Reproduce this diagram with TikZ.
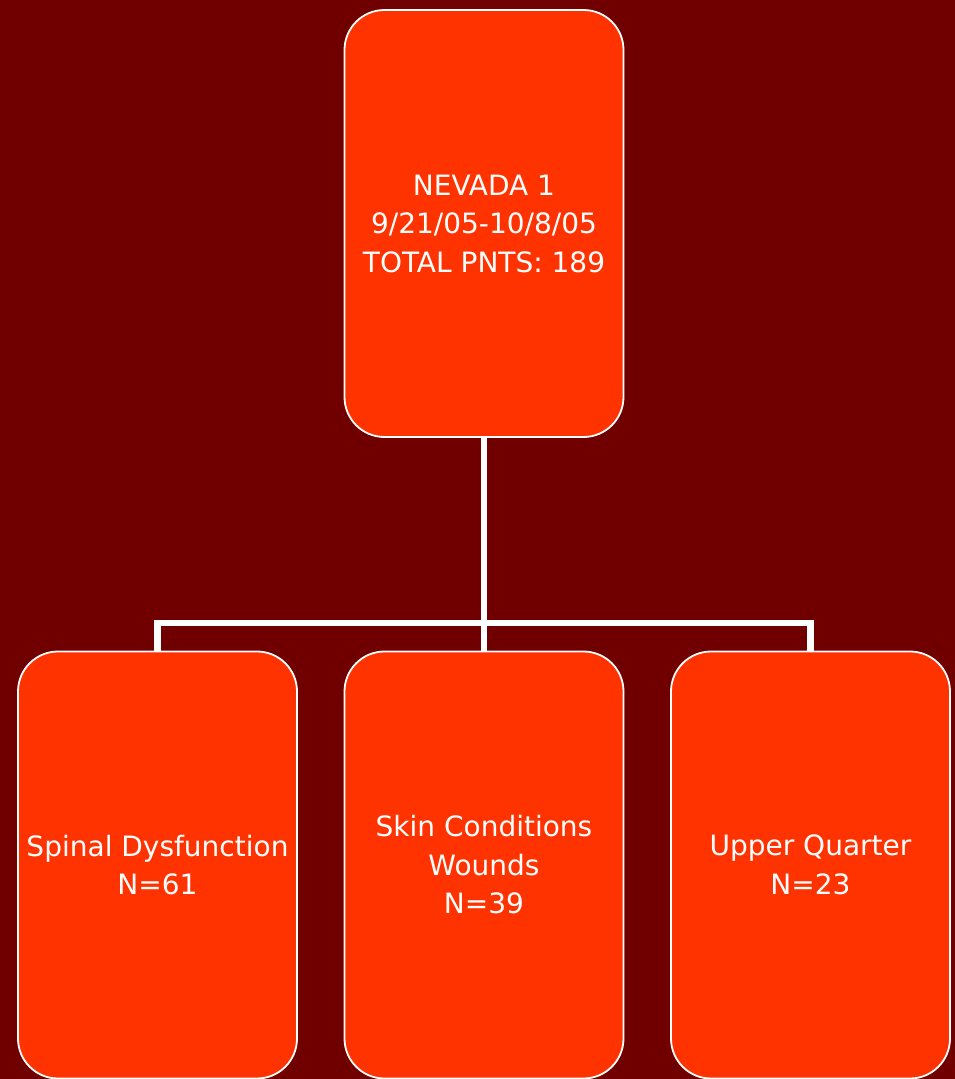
\documentclass[tikz,border=0pt]{standalone}
\usepackage{fontspec}
\usetikzlibrary{backgrounds}
\setmainfont{DejaVu Sans}
\definecolor{bgred}{HTML}{700000}
\definecolor{boxred}{HTML}{FF3300}
\begin{document}
\begin{tikzpicture}[x=1pt,y=-1pt,
  box/.style={draw=white,line width=1.8pt,fill=boxred,rounded corners=40pt,
    minimum width=279pt,minimum height=427pt,inner sep=0pt,text=white,
    align=center,font=\fontsize{28}{38.5}\selectfont},
  link/.style={draw=white,line width=6.5pt,line join=miter}]
\useasboundingbox (0,0) rectangle (955,1079);
\node[box] (top) at (484,223.5) {NEVADA 1\\9/21/05-10/8/05\\TOTAL PNTS: 189};
\node[box] (a) at (157.5,865) {Spinal Dysfunction\\N=61};
\node[box] (b) at (484,865) {Skin Conditions\\Wounds\\N=39};
\node[box] (c) at (810.5,865) {Upper Quarter\\N=23};
\begin{scope}[on background layer]
\fill[bgred] (0,0) rectangle (955,1079);
\draw[link] ([yshift=6pt]top.south) -- ([yshift=-6pt]b.north);
\draw[link] ([yshift=-6pt]a.north) -- ([yshift=27.5pt]a.north) coordinate (jl)
  -| ([yshift=-6pt]c.north);
\end{scope}
\end{tikzpicture}
\end{document}
